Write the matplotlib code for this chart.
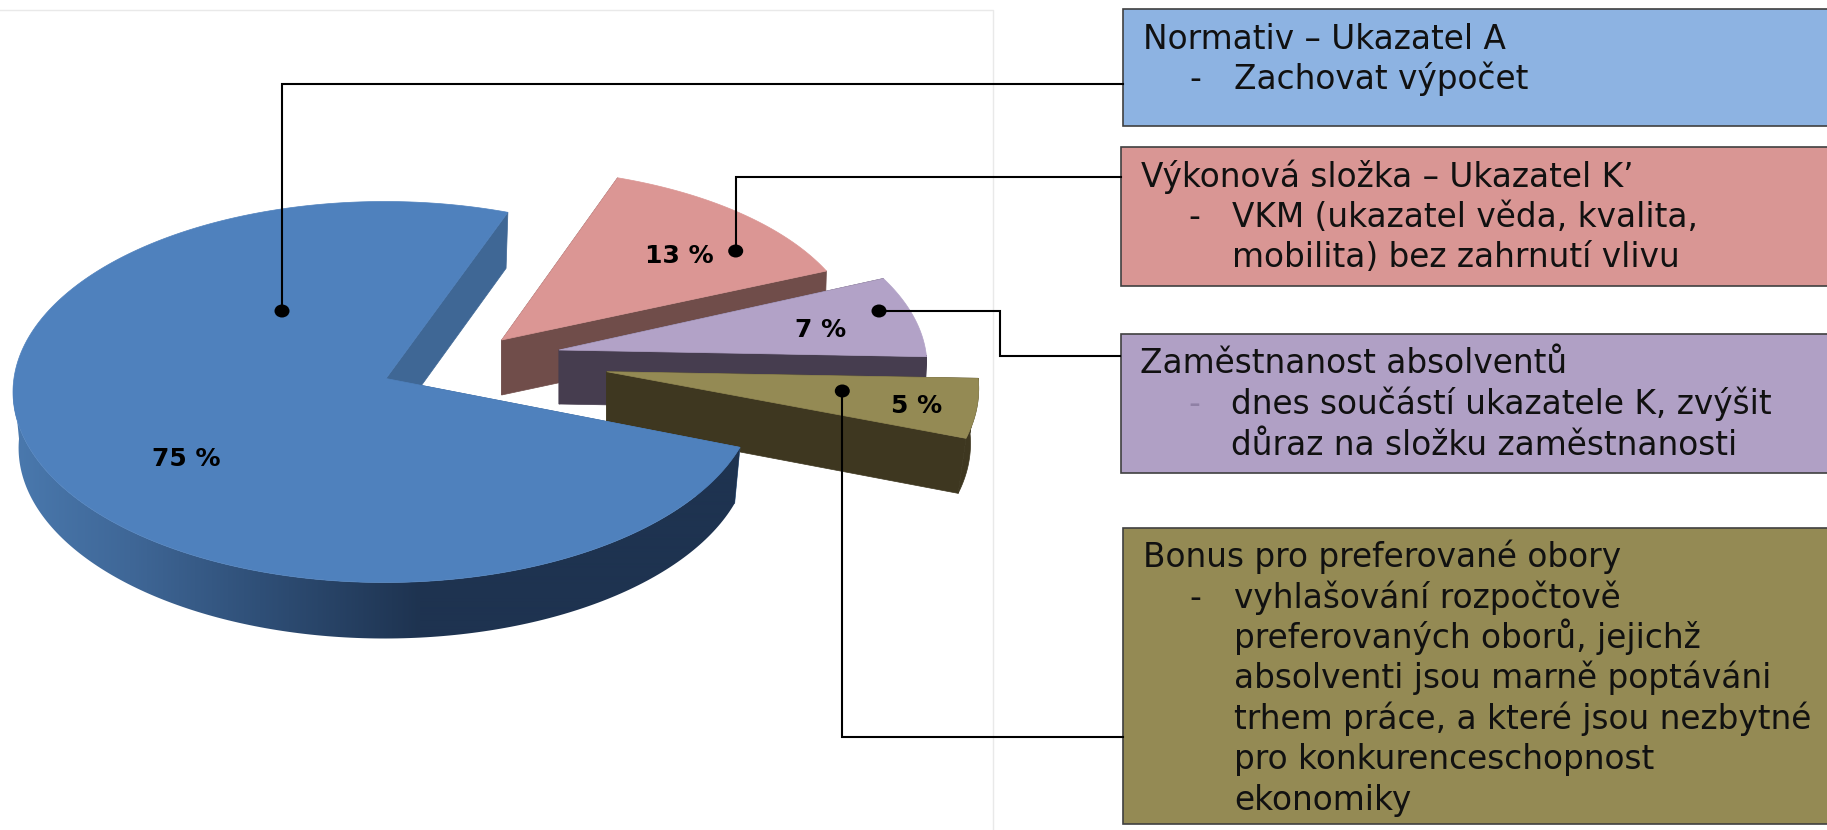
import numpy as np
import matplotlib
matplotlib.use("Agg")
import matplotlib.pyplot as plt
from matplotlib.colors import to_rgb
from matplotlib.patches import Polygon, Rectangle, Ellipse

plt.rcParams['font.family'] = ['DejaVu Sans']

# data
pie_values = [75, 13, 7, 5]
pie_labels = ["75 %", "13 %", "7 %", "5 %"]

box_blue = ["Normativ – Ukazatel A", "Zachovat výpočet"]
box_red = ["Výkonová složka – Ukazatel K’", "VKM (ukazatel věda, kvalita,", "mobilita) bez zahrnutí vlivu"]
box_purple = ["Zaměstnanost absolventů", "dnes součástí ukazatele K, zvýšit", "důraz na složku zaměstnanosti"]
box_olive = ["Bonus pro preferované obory", "vyhlašování rozpočtově", "preferovaných oborů, jejichž",
             "absolventi jsou marně poptáváni", "trhem práce, a které jsou nezbytné",
             "pro konkurenceschopnost", "ekonomiky"]

# pie look, one entry per slice (pixels of the picture)
top_colors = ['#4f81bd', '#db9694', '#b2a2c7', '#948a54']
wall_colors = ['#3f6795', '#704d4a', '#463d4f', '#3e3720']
apex_xy = [(386, 378.5), (501.7, 340), (559, 350), (606.7, 371.7)]
radius_x = [371.5, 356, 368, 372]
radius_y = [190.5, 174, 186, 193]
center_dx = [-1.5, 0, 0, 0]
center_dy = [13.5, 2.3, 16.4, 16.7]
start_deg = [70.6, 24.2, 3, -15]
sweep_fix = [1.0093, 1, 1, 1]
depth = [56, 55, 54, 55]
shrink = [0.985, 0.995, 0.995, 0.978]
paint_order = [3, 0, 1, 2]   # blue sits over the olive wall
label_xy = [(186, 466), (679, 263), (821, 337), (917, 413)]

fig = plt.figure(figsize=(18.27, 8.3), dpi=100)
ax = fig.add_axes([0, 0, 1, 1])

# faint chart frame
ax.plot([0, 993, 993], [10, 10, 830], color='#e9e9e9', lw=1, zorder=0)

# gradient of the blue rim
stops_x = [13, 130, 260, 420, 1000]
stops_c = np.array([to_rgb(c) for c in ['#4a79ae', '#3f6797', '#2f4f77', '#1e3350', '#1e3350']])
grad_x = np.arange(0, 800)
grad = np.stack([np.interp(grad_x, stops_x, stops_c[:, k]) for k in range(3)], axis=-1)[np.newaxis, :, :]


def draw_slice(i):
    x0, y0 = apex_xy[i]
    z = 2 + paint_order[i] * 0.1
    sweep = pie_values[i] * 3.6 * sweep_fix[i]
    th = np.radians(np.linspace(start_deg[i], start_deg[i] + sweep, 300))
    arc_x = x0 + center_dx[i] + radius_x[i] * np.cos(th)
    arc_y = y0 + center_dy[i] - radius_y[i] * np.sin(th)
    low_x = x0 + (arc_x - x0) * shrink[i]
    low_y = arc_y + depth[i]

    # straight walls, apex to both ends of the arc
    for k in [0, -1]:
        ax.add_patch(Polygon([(x0, y0), (arc_x[k], arc_y[k]), (low_x[k], low_y[k]), (x0, y0 + depth[i])],
                             fc=wall_colors[i], ec=wall_colors[i], lw=0.5, zorder=z))
    # rim wall, only the part that faces us
    front = np.sin(th) < 0.06
    if front.sum() > 1:
        rim = list(zip(arc_x[front], arc_y[front])) + list(zip(low_x[front][::-1], low_y[front][::-1]))
        if i == 0:
            patch = Polygon(rim, fc='none', ec='none', transform=ax.transData)
            ax.add_patch(patch)
            im = ax.imshow(grad, extent=[0, 800, 700, 300], aspect='auto', zorder=z, interpolation='bilinear')
            im.set_clip_path(patch)
        else:
            ax.add_patch(Polygon(rim, fc=wall_colors[i], ec=wall_colors[i], lw=0.5, zorder=z))
    # top face
    pts = [(x0, y0)] + list(zip(arc_x, arc_y))
    ax.add_patch(Polygon(pts, fc=top_colors[i], ec=top_colors[i], lw=0.5, zorder=z + 0.05))


for i in range(len(pie_values)):
    draw_slice(i)

ax.set_xlim(0, 1827)
ax.set_ylim(830, 0)
ax.axis('off')

for lab, (lx, ly) in zip(pie_labels, label_xy):
    ax.text(lx, ly, lab, ha='center', va='baseline', fontsize=18, fontweight='bold', color='black', zorder=6)

# leader lines
leaders = [
    [(282, 311), (282, 84), (1123, 84)],
    [(735.7, 251), (735.7, 177), (1121, 177)],
    [(879, 311), (1000, 311), (1000, 356), (1120, 356)],
    [(842.3, 391), (842.3, 736.5), (1123, 736.5)],
]
for line in leaders:
    xs, ys = zip(*line)
    ax.plot(xs, ys, color='black', lw=1.5, zorder=5, solid_joinstyle='miter')
    ax.add_patch(Ellipse(line[0], 15, 13, fc='black', ec='none', zorder=5))

# text boxes
boxes = [
    (1123, 9.5, 126, '#8db3e2', box_blue, [49, 89], 1143, 1189.5, 1234),
    (1121, 147.5, 286, '#d99694', box_red, [187, 227, 267], 1141, 1188, 1232.5),
    (1120.5, 334, 472.5, '#b0a0c5', box_purple, [373, 414, 455], 1140, 1188, 1231),
    (1123, 527.5, 824, '#948a54', box_olive, [567, 608, 648, 688, 729, 769, 810], 1143, 1189, 1234),
]
for x0, y0, y1, col, lines, bases, x_head, x_dash, x_body in boxes:
    ax.add_patch(Rectangle((x0, y0), 1832 - x0, y1 - y0, fc=col, ec='#404040', lw=1.2, zorder=4))
    ax.text(x_head, bases[0], lines[0], fontsize=23.6, va='baseline', color='#111111', zorder=6)
    dash_col = '#8f80a5' if col == '#b0a0c5' else '#111111'
    ax.text(x_dash, bases[1], "-", fontsize=23.6, va='baseline', color=dash_col, zorder=6)
    for txt, b in zip(lines[1:], bases[1:]):
        ax.text(x_body, b, txt, fontsize=23.6, va='baseline', color='#111111', zorder=6)

fig.savefig("out.png", dpi=100, facecolor='white')
